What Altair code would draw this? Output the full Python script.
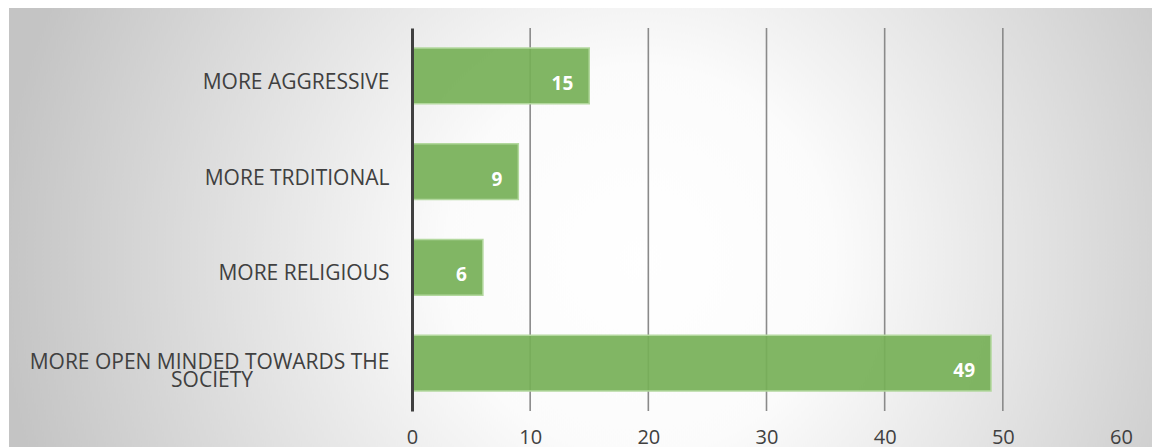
import altair as alt
import pandas as pd

categories = ["MORE AGGRESSIVE", "MORE TRDITIONAL", "MORE RELIGIOUS",
              "MORE OPEN MINDED TOWARDS THE SOCIETY"]
values = [15, 9, 6, 49]
grid_values = [10, 20, 30, 40, 50]
tick_values = [0, 10, 20, 30, 40, 50, 60]

df = pd.DataFrame({"cat": categories, "val": values})
gdf = pd.DataFrame({"g": grid_values})

W, H = 709, 383
PL, PT, PR, PB = 412, 28, 31, 36
TOTAL_W, TOTAL_H = 1152, 447

# circular gradient: square box centred vertically on the light spot
CX, CY = 640, 260
BOX = TOTAL_W - 9
gradient = {
    "gradient": "radial",
    "x1": (CX - 9) / BOX, "y1": 0.5, "r1": 0,
    "x2": (CX - 9) / BOX, "y2": 0.5, "r2": 0.56,
    "stops": [
        {"offset": 0, "color": "#ffffff"},
        {"offset": 0.3, "color": "#fbfbfb"},
        {"offset": 1, "color": "#c4c4c4"},
    ],
}

bg = alt.Chart(df).mark_rect(fill=gradient).encode(
    x=alt.value(9 - PL), x2=alt.value(TOTAL_W - PL),
    y=alt.value(CY - BOX / 2 - PT), y2=alt.value(CY + BOX / 2 - PT),
)
topband = alt.Chart(df).mark_rect(fill="white").encode(
    x=alt.value(-PL), x2=alt.value(TOTAL_W - PL),
    y=alt.value(-PT - 400), y2=alt.value(8 - PT),
)

xscale = alt.Scale(domain=[0, 60], nice=False)
yscale = alt.Scale(domain=categories, paddingInner=0.42, paddingOuter=0.21)

grid = alt.Chart(gdf).mark_rule(color="#8a8a8a", strokeWidth=1.6).encode(
    x=alt.X("g:Q", scale=xscale)
)

LONG = "MORE OPEN MINDED TOWARDS THE SOCIETY"
# trailing en spaces (kept by a zero-width space, since Vega trims lines)
# centre the second line under the first
pad = "\u2002" * 13 + "\u200b"
label_expr = ("datum.value == '" + LONG + "' ? "
              "['MORE OPEN MINDED TOWARDS THE', 'SOCIETY" + pad + "'] : datum.label")

bars = alt.Chart(df).mark_bar(
    fill="#76B057", fillOpacity=0.92, stroke="#B3D89E", strokeWidth=1.5
).encode(
    x=alt.X("val:Q", scale=xscale, axis=alt.Axis(
        values=tick_values, title=None, domain=False, ticks=False, grid=False,
        labelFontSize=20, labelFont="Open Sans", labelColor="#404040",
        labelPadding=16, labelBaseline="top", labelFlush=False, zindex=2)),
    y=alt.Y("cat:N", scale=yscale, sort=categories, axis=alt.Axis(
        title=None, ticks=False, grid=False, domain=True, domainColor="#404040",
        domainWidth=3, zindex=2, labelFontSize=21, labelFont="Open Sans",
        labelColor="#404040", labelPadding=23,
        labelOffset={"condition": {"test": "datum.value == '" + LONG + "'",
                                   "value": 0}, "value": 7},
        labelLineHeight=18, labelLimit=420, labelExpr=label_expr)),
)

text = alt.Chart(df).mark_text(
    align="right", baseline="middle", dx=-16, dy=8, color="white",
    fontSize=19, fontWeight="bold", font="Open Sans"
).encode(
    x=alt.X("val:Q", scale=xscale),
    y=alt.Y("cat:N", scale=yscale, sort=categories),
    text="val:Q",
)

chart = alt.layer(bg, topband, grid, bars, text).properties(
    width=W, height=H,
    padding={"left": PL, "top": PT, "right": PR, "bottom": PB},
    autosize=alt.AutoSizeParams(type="none"),
    background="white",
).configure_view(stroke=None)

chart.save("out.html", embed_options={"renderer": "svg", "actions": False})
